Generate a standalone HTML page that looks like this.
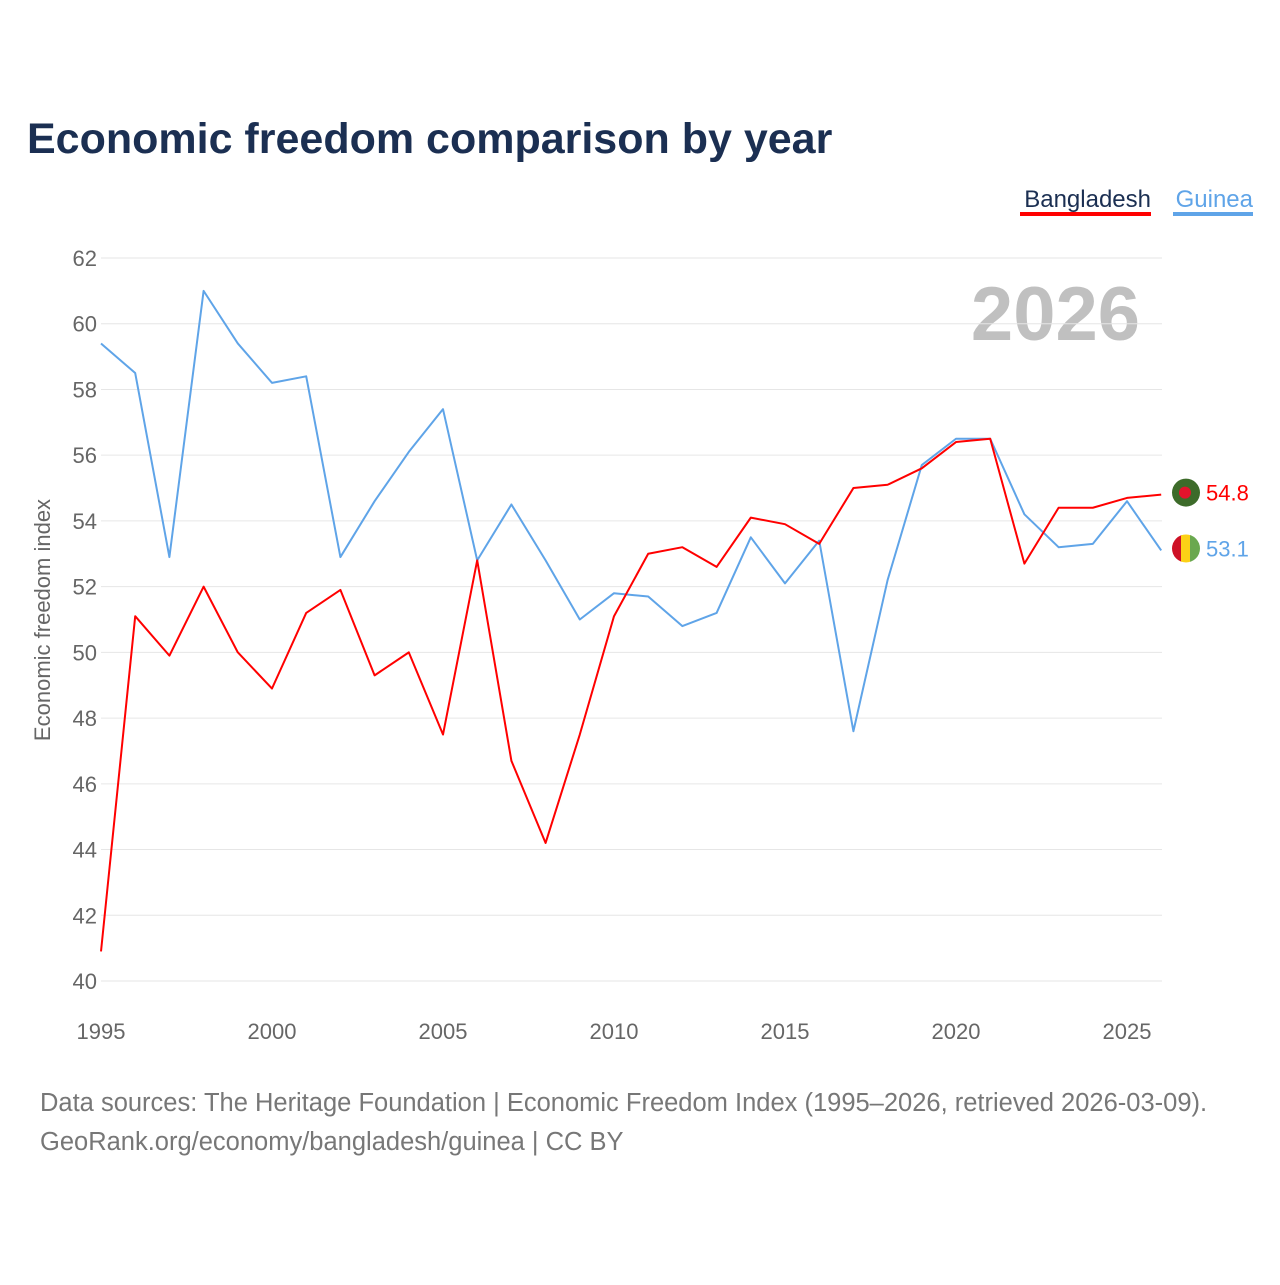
<!DOCTYPE html>
<html><head><meta charset="utf-8">
<style>
body{margin:0;background:#fff;width:1280px;height:1280px;overflow:hidden;font-family:"Liberation Sans",sans-serif}
</style></head>
<body>
<svg id="chart" width="1280" height="1280" xmlns="http://www.w3.org/2000/svg">
<text x="27" y="153" font-size="43" font-weight="bold" fill="#1b2f52">Economic freedom comparison by year</text>
<g>
<text x="1151" y="207" text-anchor="end" font-size="24" fill="#1b2f52">Bangladesh</text>
<rect x="1020" y="212" width="131" height="4" fill="#ff0000"/>
<text x="1253" y="207" text-anchor="end" font-size="24" fill="#5fa4e8">Guinea</text>
<rect x="1173" y="212" width="80" height="4" fill="#5fa4e8"/>
</g>
<text x="1140" y="340" text-anchor="end" font-size="76" font-weight="bold" fill="#c0c0c0">2026</text>
<text transform="translate(50,620) rotate(-90)" text-anchor="middle" font-size="22" fill="#666">Economic freedom index</text>
<g id="grid"></g><g id="xt"></g><g id="series"></g>
<text x="40" y="1111" font-size="25.5" fill="#777">Data sources: The Heritage Foundation | Economic Freedom Index (1995–2026, retrieved 2026-03-09).</text>
<text x="40" y="1150" font-size="25.5" fill="#777">GeoRank.org/economy/bangladesh/guinea | CC BY</text>
</svg>
<script>
const years=[1995,1996,1997,1998,1999,2000,2001,2002,2003,2004,2005,2006,2007,2008,2009,2010,2011,2012,2013,2014,2015,2016,2017,2018,2019,2020,2021,2022,2023,2024,2025,2026];
const bangladesh=[40.9,51.1,49.9,52.0,50.0,48.9,51.2,51.9,49.3,50.0,47.5,52.8,46.7,44.2,47.5,51.1,53.0,53.2,52.6,54.1,53.9,53.3,55.0,55.1,55.6,56.4,56.5,52.7,54.4,54.4,54.7,54.8];
const guinea=[59.4,58.5,52.9,61.0,59.4,58.2,58.4,52.9,54.6,56.1,57.4,52.8,54.5,52.8,51.0,51.8,51.7,50.8,51.2,53.5,52.1,53.4,47.6,52.2,55.7,56.5,56.5,54.2,53.2,53.3,54.6,53.1];
const yTicks=[40,42,44,46,48,50,52,54,56,58,60,62];
const xTicks=[1995,2000,2005,2010,2015,2020,2025];
const NS="http://www.w3.org/2000/svg";
const X=y=>101+(y-1995)*(1127-101)/30;
const Y=v=>981-(v-40)*(981-258)/22;
function mk(t,a,p){const e=document.createElementNS(NS,t);for(const k in a)e.setAttribute(k,a[k]);p.appendChild(e);return e;}
const grid=document.getElementById('grid');
yTicks.forEach(v=>{
 const l=mk('line',{x1:101,x2:1162,y1:Y(v),y2:Y(v),stroke:'#e6e6e6','stroke-width':1},grid);
 
 
 const t=mk('text',{x:97,y:Y(v)+8,'text-anchor':'end','font-size':22,fill:'#666'},grid);
 t.textContent=v;
 
 
});
const xt=document.getElementById('xt');
xTicks.forEach(v=>{
 const t=mk('text',{x:X(v),y:1039,'text-anchor':'middle','font-size':22,fill:'#666'},xt);
 t.textContent=v;
 
 
});
const s=document.getElementById('series');
function line(data,color,name){
 const p=mk('polyline',{points:data.map((v,i)=>X(years[i])+','+Y(v)).join(' '),fill:'none',stroke:color,'stroke-width':2,'stroke-linejoin':'round'},s);
 
 
}
line(guinea,'#5fa4e8','guinea');
line(bangladesh,'#ff0000','bangladesh');
const last=years.length-1, fx=1186;
const by=Y(bangladesh[last])-2;
const bg=mk('g',{},s);


mk('circle',{cx:fx,cy:by,r:14,fill:'#3d6b2a'},bg);
mk('circle',{cx:fx-1,cy:by,r:6,fill:'#e3132c'},bg);
const bl=mk('text',{x:1206,y:by+8,'font-size':22,fill:'#ff0000'},s);
bl.textContent=bangladesh[last].toFixed(1);


const gg=mk('g',{},s);


const gy=Y(guinea[last])-2;
const cpath=mk('clipPath',{id:'gc'},gg);
mk('circle',{cx:fx,cy:gy,r:14},cpath);
mk('rect',{x:fx-14,y:gy-14,width:10,height:28,fill:'#ce1126','clip-path':'url(#gc)'},gg);
mk('rect',{x:fx-5,y:gy-14,width:10,height:28,fill:'#fcd116','clip-path':'url(#gc)'},gg);
mk('rect',{x:fx+4,y:gy-14,width:10,height:28,fill:'#6aa84f','clip-path':'url(#gc)'},gg);
const gl=mk('text',{x:1206,y:gy+8,'font-size':22,fill:'#5fa4e8'},s);
gl.textContent=guinea[last].toFixed(1);


</script>
</body></html>
